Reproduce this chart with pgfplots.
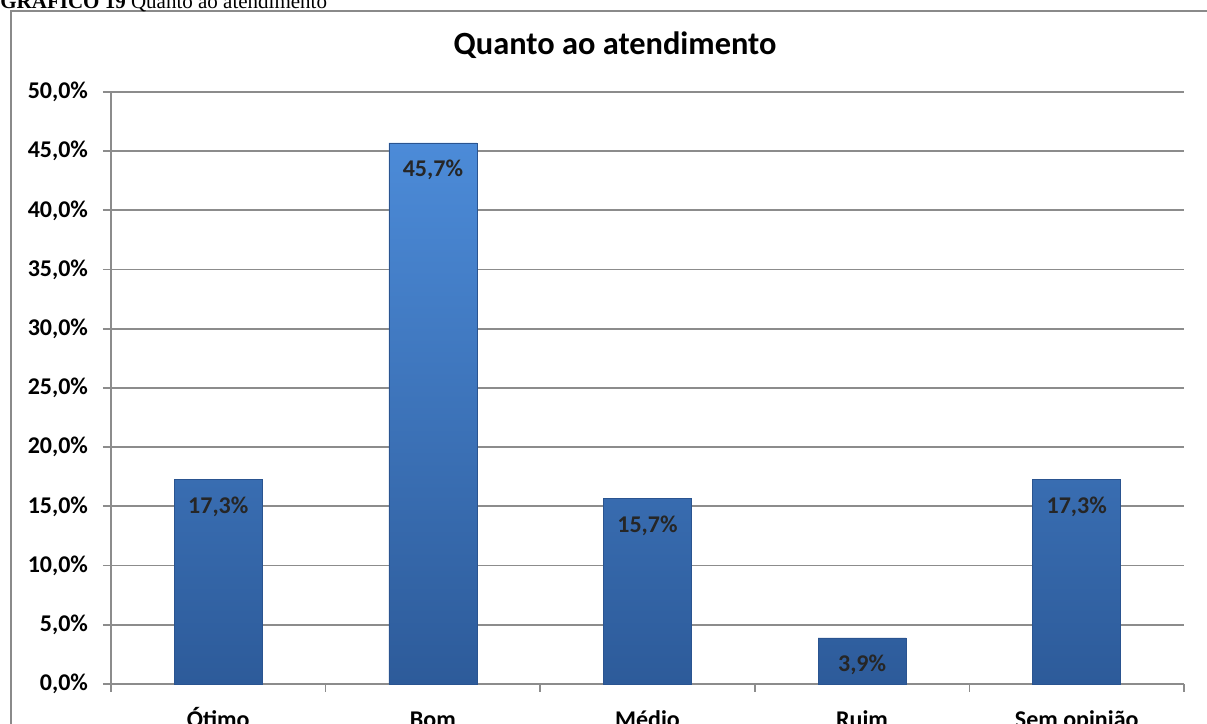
\documentclass[border=0pt]{standalone}
\usepackage{fontspec}
\setmainfont{Carlito}
\newfontfamily\timesfont{Liberation Serif}
\usepackage{pgfplots}
\pgfplotsset{compat=1.18}
\definecolor{gridc}{HTML}{8C8C8C}
\definecolor{framec}{HTML}{8A8A8A}
\definecolor{bartop}{HTML}{4C8BD8}
\definecolor{barbot}{HTML}{2D5B9A}
\definecolor{baredge}{HTML}{2A5490}
\begin{document}
\begin{tikzpicture}
\path[use as bounding box] (0pt,0pt) rectangle (603.5pt,362pt);
\clip (0pt,0pt) rectangle (603.5pt,362pt);
\fill[white] (0pt,0pt) rectangle (603.5pt,362pt);
\draw[framec, line width=1pt] (5.5pt,-20pt) rectangle (620pt,356.5pt);
\node[anchor=base west, inner sep=0pt, font=\timesfont\fontsize{10.5}{12}\selectfont] at (0pt,357.5pt) {\textbf{GRÁFICO 19} Quanto ao atendimento};
\node[anchor=base, inner sep=0pt, font=\bfseries\fontsize{16.2}{18}\selectfont] at (307.5pt,334.5pt) {Quanto ao atendimento};
\begin{axis}[
  at={(55.5pt,20pt)}, anchor=south west,
  scale only axis, width=536.5pt, height=296pt,
  xmin=0, xmax=5, ymin=0, ymax=50,
  axis x line*=bottom, axis y line*=left,
  axis line style={gridc, line width=0.9pt},
  ytick={0,5,...,50},
  ymajorgrids, grid style={gridc, line width=0.9pt},
  tick align=outside, major tick length=4pt, minor tick length=4pt,
  tick style={gridc, line width=0.9pt},
  yticklabel={\pgfmathprintnumber[fixed,fixed zerofill,precision=1,use comma]{\tick}\%},
  /pgf/number format/assume math mode=true,
  tick label style={font=\bfseries\fontsize{12}{14}\selectfont, text=black},
  yticklabel style={anchor=east, xshift=-4pt},
  xtick={0.5,1.5,2.5,3.5,4.5},
  xticklabels={Ótimo,Bom,Médio,Ruim,Sem opinião},
  major x tick style={draw=none},
  minor xtick={0,1,2,3,4,5},
  xticklabel style={anchor=base, yshift=-18pt},
  clip=false,
]
\addplot[ybar, bar width=44pt, draw=baredge, line width=0.3pt, top color=bartop, bottom color=barbot]
  coordinates {(0.5,17.3) (1.5,45.7) (2.5,15.7) (3.5,3.9) (4.5,17.3)};
\addplot[draw=none, mark=none,
  nodes near coords={\pgfmathprintnumber[fixed,fixed zerofill,precision=1,use comma]{\pgfplotspointmeta}\%},
  nodes near coords style={anchor=base, yshift=-17pt, font=\bfseries\fontsize{12}{14}\selectfont, text=black!85}]
  coordinates {(0.5,17.3) (1.5,45.7) (2.5,15.7) (3.5,3.9) (4.5,17.3)};
\end{axis}
\end{tikzpicture}
\end{document}
